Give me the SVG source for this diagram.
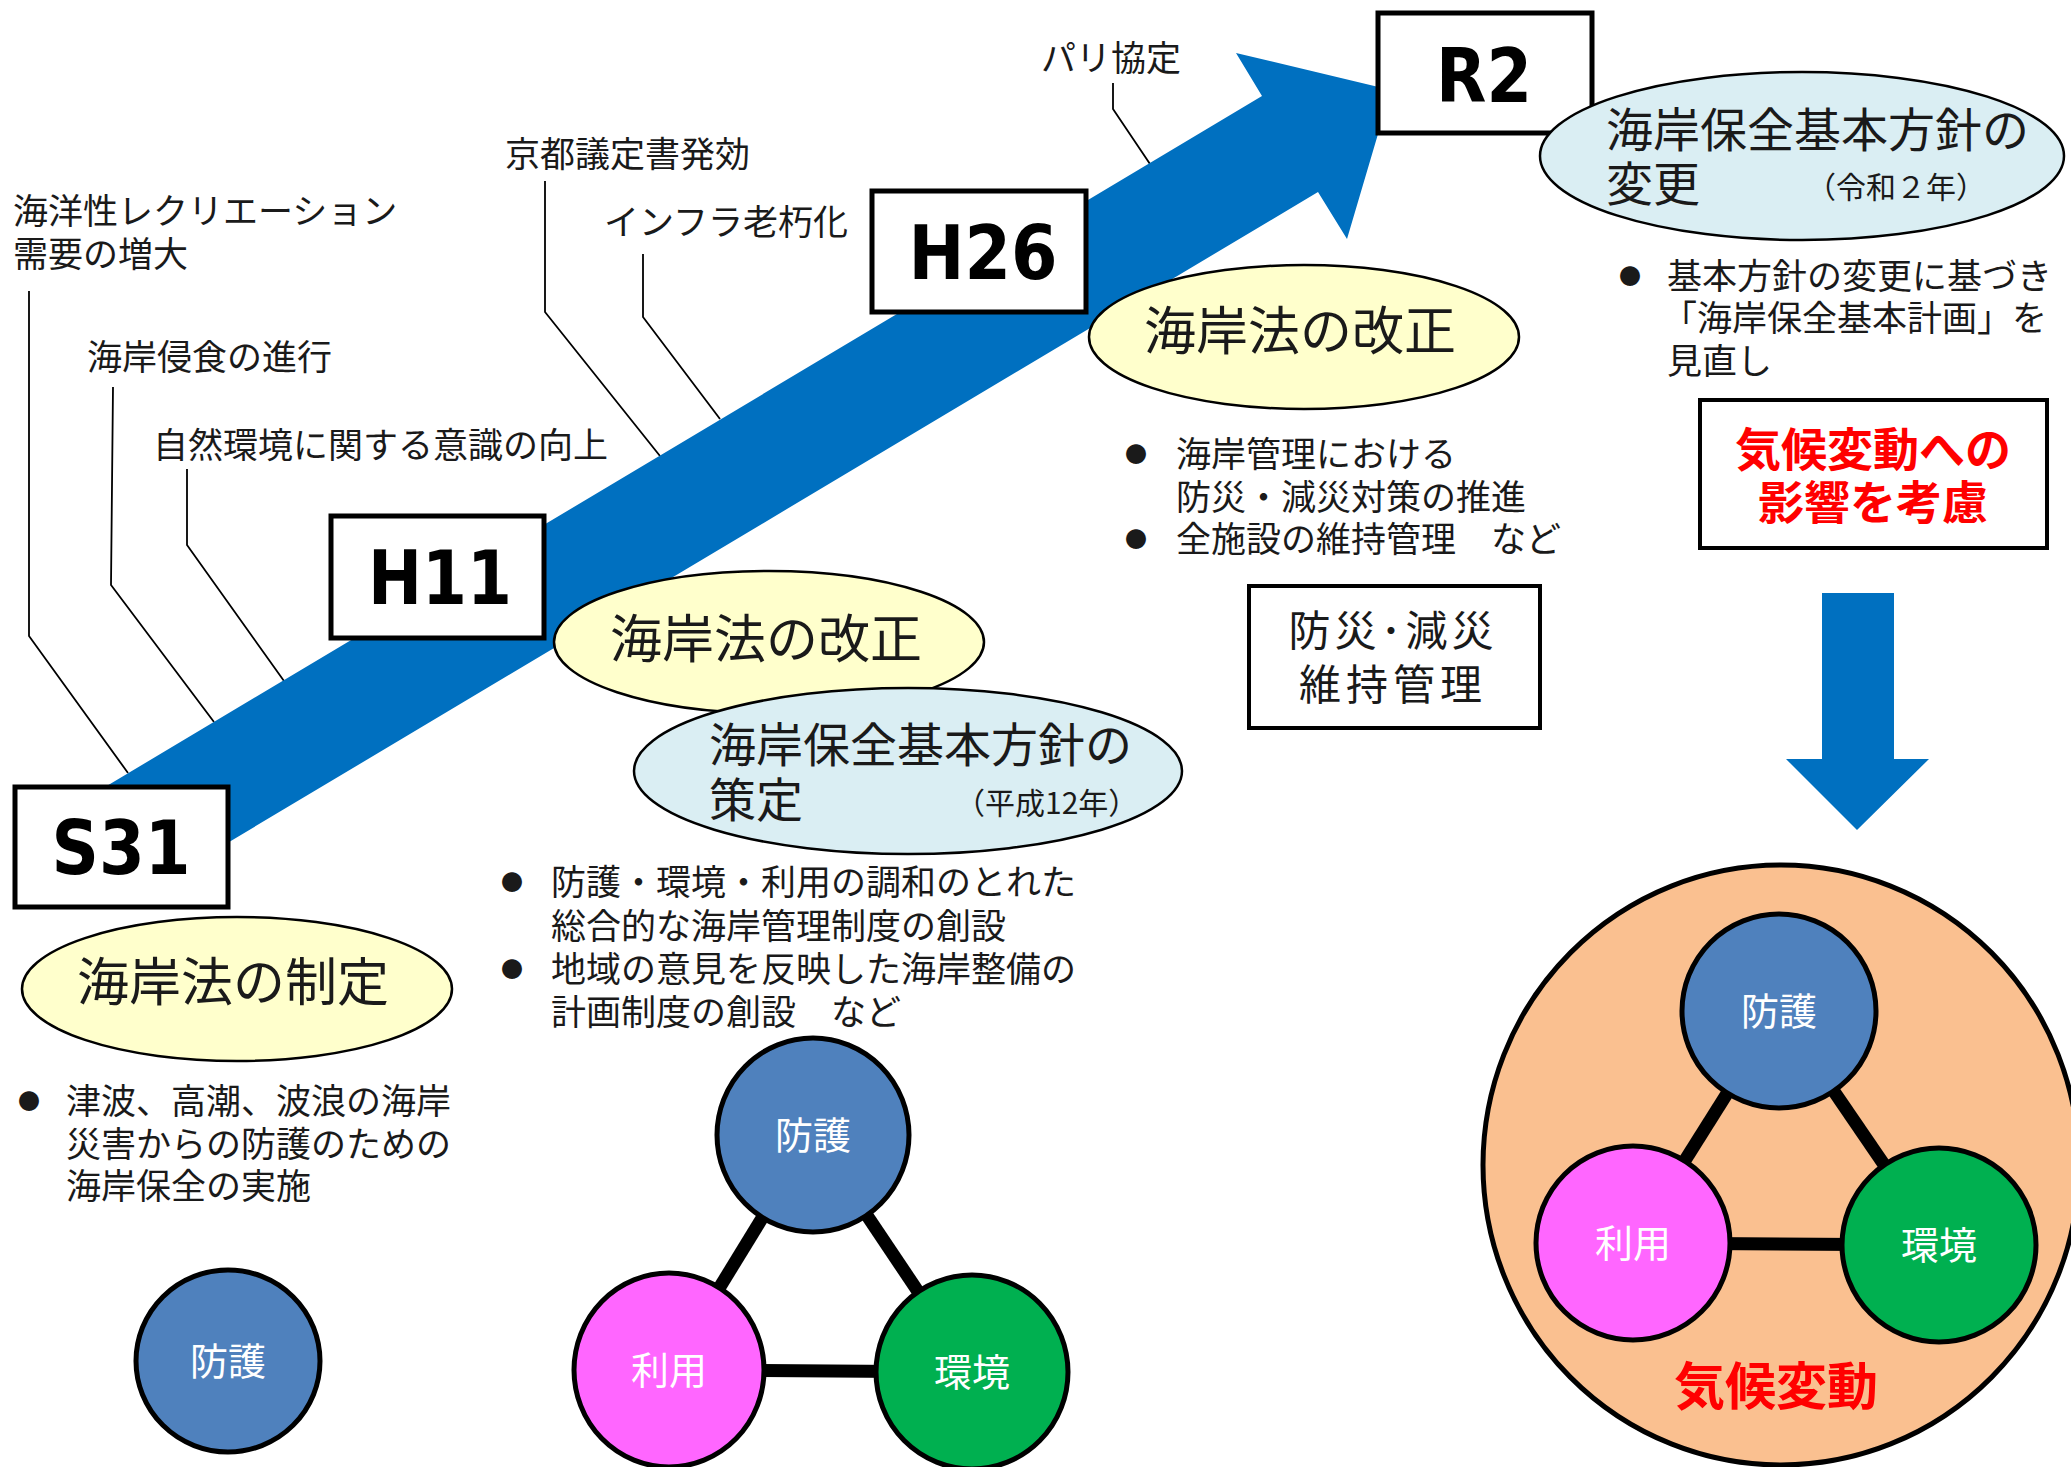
<svg xmlns="http://www.w3.org/2000/svg" width="2071" height="1467" viewBox="0 0 2071 1467">
<style>
.jp{font-family:"Noto Sans CJK JP","Noto Sans CJK SC",sans-serif;fill:#1a1a1a}
.t35{font-size:35px}
.t52{font-size:52px}
.t47{font-size:47px}
.t30{font-size:30px}
.bul{font-size:22px;text-anchor:middle}
.era{font-family:"DejaVu Sans",Verdana,sans-serif;font-weight:bold;font-size:74px;fill:#000;text-anchor:middle}
.box{fill:#fff;stroke:#000;stroke-width:5}
.yel{fill:#FFFFCC;stroke:#000;stroke-width:2.5}
.blu{fill:#DAEEF3;stroke:#000;stroke-width:2.5}
.lead{fill:none;stroke:#000;stroke-width:1.8}
.tri{stroke:#000;stroke-width:13}
.c{stroke:#000;stroke-width:5}
.ctext{font-family:"Noto Sans CJK JP",sans-serif;font-size:38px;fill:#fff;text-anchor:middle}
.red{font-family:"Noto Sans CJK JP",sans-serif;font-weight:bold;fill:#FF0000;text-anchor:middle}
</style>
<rect width="2071" height="1467" fill="#fff"/>
<g id="connectors">
<polyline class="lead" points="29,291 29,636 128,773"/>
<polyline class="lead" points="113,387 111,585 214,722"/>
<polyline class="lead" points="187,469 187,545 284,681"/>
<polyline class="lead" points="545,181 545,312 660,456"/>
<polyline class="lead" points="643,254 643,317 720,419"/>
<polyline class="lead" points="1113,83 1113,109 1150,164"/>
</g>
<g id="timeline-arrow">
<polygon fill="#0070C0" points="100,790 1262,96 1236,53 1391,90 1347,239 1318,192 157,885"/>
</g>
<g id="labels">
<text class="jp t35" x="13" y="224">海洋性レクリエーション</text>
<text class="jp t35" x="13" y="267">需要の増大</text>
<text class="jp t35" x="87" y="370">海岸侵食の進行</text>
<text class="jp t35" x="153" y="458">自然環境に関する意識の向上</text>
<text class="jp t35" x="505" y="167">京都議定書発効</text>
<text class="jp t35" x="604" y="235">インフラ老朽化</text>
<text class="jp t35" x="1041" y="71">パリ協定</text>
</g>
<g id="S31">
<rect class="box" x="15" y="787" width="213" height="120"/>
<text class="era" x="121" y="874" textLength="139" lengthAdjust="spacingAndGlyphs">S31</text>
</g>
<g id="H11">
<rect class="box" x="331" y="516" width="213" height="122"/>
<text class="era" x="440" y="604" textLength="144" lengthAdjust="spacingAndGlyphs">H11</text>
</g>
<g id="H26">
<rect class="box" x="872" y="191" width="214" height="121"/>
<text class="era" x="983" y="279" textLength="149" lengthAdjust="spacingAndGlyphs">H26</text>
</g>
<g id="R2">
<rect class="box" x="1378" y="13" width="214" height="120"/>
<text class="era" x="1484" y="102" textLength="96" lengthAdjust="spacingAndGlyphs">R2</text>
</g>
<g id="law-1956">
<ellipse class="yel" cx="237" cy="989" rx="215" ry="72"/>
<text class="jp t52" x="77" y="1001">海岸法の制定</text>
</g>
<g id="law-1999">
<ellipse class="yel" cx="769" cy="642" rx="215" ry="71"/>
<text class="jp t52" x="610" y="658">海岸法の改正</text>
</g>
<g id="policy-2000">
<ellipse class="blu" cx="908" cy="771" rx="274" ry="83"/>
<text class="jp t47" x="709" y="762">海岸保全基本方針の</text>
<text class="jp t47" x="709" y="817">策定</text>
<text class="jp t30" x="955" y="814">（平成12年）</text>
</g>
<g id="law-2014">
<ellipse class="yel" cx="1304" cy="337" rx="215" ry="72"/>
<text class="jp t52" x="1144" y="350">海岸法の改正</text>
</g>
<g id="policy-2020">
<ellipse class="blu" cx="1802" cy="156" rx="262" ry="84"/>
<text class="jp t47" x="1606" y="147">海岸保全基本方針の</text>
<text class="jp t47" x="1606" y="201">変更</text>
<text class="jp t30" x="1806" y="198">（令和２年）</text>
</g>
<g id="bullets-S31">
<text class="jp bul" x="29" y="1109">●</text>
<text class="jp t35" x="66" y="1114">津波、高潮、波浪の海岸</text>
<text class="jp t35" x="66" y="1157">災害からの防護のための</text>
<text class="jp t35" x="66" y="1199">海岸保全の実施</text>
</g>
<g id="bullets-H11">
<text class="jp bul" x="512" y="890">●</text>
<text class="jp t35" x="551" y="895">防護・環境・利用の調和のとれた</text>
<text class="jp t35" x="551" y="939">総合的な海岸管理制度の創設</text>
<text class="jp bul" x="512" y="977">●</text>
<text class="jp t35" x="551" y="982">地域の意見を反映した海岸整備の</text>
<text class="jp t35" x="551" y="1025">計画制度の創設　など</text>
</g>
<g id="bullets-H26">
<text class="jp bul" x="1136" y="462">●</text>
<text class="jp t35" x="1176" y="467">海岸管理における</text>
<text class="jp t35" x="1176" y="510">防災・減災対策の推進</text>
<text class="jp bul" x="1136" y="547">●</text>
<text class="jp t35" x="1176" y="552">全施設の維持管理　など</text>
</g>
<g id="bullets-R2">
<text class="jp bul" x="1630" y="284">●</text>
<text class="jp t35" x="1667" y="289">基本方針の変更に基づき</text>
<text class="jp t35" x="1662" y="331">「海岸保全基本計画」を</text>
<text class="jp t35" x="1667" y="374">見直し</text>
</g>
<g id="box-disaster">
<rect x="1249" y="586" width="291" height="142" fill="#fff" stroke="#000" stroke-width="4"/>
<text class="jp" x="1393" y="646" font-size="42" letter-spacing="4" text-anchor="middle">防災･減災</text>
<text class="jp" x="1393" y="700" font-size="42" letter-spacing="5" text-anchor="middle">維持管理</text>
</g>
<g id="box-climate">
<rect x="1700" y="400" width="347" height="148" fill="#fff" stroke="#000" stroke-width="4"/>
<text class="red" x="1873" y="466" font-size="46">気候変動への</text>
<text class="red" x="1873" y="519" font-size="46">影響を考慮</text>
</g>
<g id="down-arrow">
<polygon fill="#0070C0" points="1822,593 1894,593 1894,759 1929,759 1857,830 1786,759 1822,759"/>
</g>
<g id="triangle-S31">
<g id="S31-protect"><ellipse class="c" cx="228" cy="1361" rx="92" ry="91" fill="#4F81BD"/><text class="ctext" x="228" y="1375">防護</text></g>
</g>
<g id="triangle-H11">
<line class="tri" x1="813" y1="1135" x2="669" y2="1370"/>
<line class="tri" x1="813" y1="1135" x2="972" y2="1372"/>
<line class="tri" x1="669" y1="1370" x2="972" y2="1372"/>
<g id="H11-protect"><ellipse class="c" cx="813" cy="1135" rx="96" ry="97" fill="#4F81BD"/><text class="ctext" x="813" y="1149">防護</text></g>
<g id="H11-use"><ellipse class="c" cx="669" cy="1370" rx="95" ry="97" fill="#FF66FF"/><text class="ctext" x="669" y="1384">利用</text></g>
<g id="H11-env"><ellipse class="c" cx="972" cy="1372" rx="96" ry="97" fill="#00B050"/><text class="ctext" x="972" y="1386">環境</text></g>
</g>
<g id="climate-circle">
<ellipse cx="1781" cy="1165" rx="298" ry="300" fill="#FAC090" stroke="#000" stroke-width="5"/>
<line class="tri" x1="1779" y1="1011" x2="1633" y2="1243"/>
<line class="tri" x1="1779" y1="1011" x2="1939" y2="1245"/>
<line class="tri" x1="1633" y1="1243" x2="1939" y2="1245"/>
<g id="R2-protect"><circle class="c" cx="1779" cy="1011" r="97" fill="#4F81BD"/><text class="ctext" x="1779" y="1025">防護</text></g>
<g id="R2-use"><circle class="c" cx="1633" cy="1243" r="97" fill="#FF66FF"/><text class="ctext" x="1633" y="1257">利用</text></g>
<g id="R2-env"><circle class="c" cx="1939" cy="1245" r="97" fill="#00B050"/><text class="ctext" x="1939" y="1259">環境</text></g>
<text class="red" x="1776" y="1405" font-size="51">気候変動</text>
</g>
</svg>
